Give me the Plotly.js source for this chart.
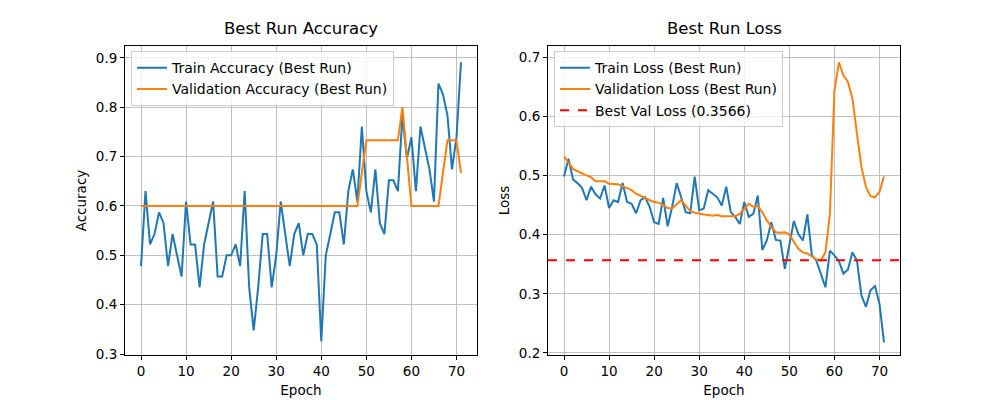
<!DOCTYPE html>
<html>
<head>
<meta charset="utf-8">
<script src="https://cdn.plot.ly/plotly-3.0.1.min.js"></script>
<style>body{margin:0}#chart{width:1000px;height:400px}</style>
</head>
<body>
<div id="chart"></div>
<script>
// values
const trainAcc = [0.478,0.630,0.522,0.543,0.587,0.565,0.478,0.543,0.500,0.457,
  0.609,0.522,0.522,0.435,0.522,0.565,0.609,0.457,0.457,0.500,
  0.500,0.522,0.478,0.630,0.435,0.348,0.435,0.543,0.543,0.435,
  0.500,0.609,0.543,0.478,0.543,0.565,0.500,0.543,0.543,0.522,
  0.326,0.500,0.543,0.587,0.587,0.522,0.630,0.674,0.609,0.761,
  0.630,0.587,0.674,0.565,0.543,0.652,0.652,0.630,0.783,0.696,
  0.739,0.630,0.761,0.717,0.674,0.609,0.848,0.826,0.783,0.674,
  0.739,0.891];
const valAcc = [0.6,0.6,0.6,0.6,0.6,0.6,0.6,0.6,0.6,0.6,
  0.6,0.6,0.6,0.6,0.6,0.6,0.6,0.6,0.6,0.6,
  0.6,0.6,0.6,0.6,0.6,0.6,0.6,0.6,0.6,0.6,
  0.6,0.6,0.6,0.6,0.6,0.6,0.6,0.6,0.6,0.6,
  0.6,0.6,0.6,0.6,0.6,0.6,0.6,0.6,0.6,0.667,
  0.733,0.733,0.733,0.733,0.733,0.733,0.733,0.733,0.800,0.700,
  0.6,0.6,0.6,0.6,0.6,0.6,0.6,0.667,0.733,0.733,
  0.733,0.667];
const trainLoss = [0.498,0.528,0.493,0.487,0.479,0.458,0.481,0.468,0.461,0.483,
  0.445,0.458,0.455,0.487,0.455,0.452,0.436,0.458,0.463,0.447,
  0.421,0.418,0.462,0.414,0.447,0.487,0.463,0.438,0.436,0.498,
  0.441,0.444,0.475,0.469,0.463,0.449,0.481,0.438,0.430,0.418,
  0.455,0.430,0.435,0.466,0.374,0.390,0.421,0.391,0.390,0.342,
  0.383,0.423,0.401,0.390,0.434,0.365,0.356,0.334,0.311,0.373,
  0.365,0.355,0.334,0.341,0.370,0.356,0.297,0.278,0.306,0.313,
  0.283,0.218];
const valLoss = [0.532,0.521,0.511,0.507,0.503,0.500,0.497,0.490,0.490,0.490,
  0.486,0.485,0.485,0.482,0.479,0.475,0.469,0.465,0.462,0.458,
  0.455,0.454,0.450,0.445,0.444,0.451,0.458,0.449,0.440,0.437,
  0.435,0.434,0.433,0.432,0.433,0.431,0.431,0.431,0.431,0.435,
  0.444,0.452,0.447,0.448,0.438,0.424,0.413,0.404,0.403,0.404,
  0.400,0.387,0.376,0.370,0.368,0.363,0.358,0.3566,0.370,0.435,
  0.643,0.691,0.669,0.658,0.630,0.570,0.514,0.480,0.465,0.463,
  0.472,0.498];
const bestValLoss = 0.3566;
const epochs = trainAcc.map((_, i) => i);
const xRange = [-3.55, 74.55];

const blue = '#1f77b4', orange = '#ff7f0e';
const line = c => ({color: c, width: 2});

const data = [
  {x: epochs, y: trainAcc, name: 'Train Accuracy (Best Run)', mode: 'lines', line: line(blue), xaxis: 'x', yaxis: 'y', legend: 'legend'},
  {x: epochs, y: valAcc, name: 'Validation Accuracy (Best Run)', mode: 'lines', line: line(orange), xaxis: 'x', yaxis: 'y', legend: 'legend'},
  {x: epochs, y: trainLoss, name: 'Train Loss (Best Run)', mode: 'lines', line: line(blue), xaxis: 'x2', yaxis: 'y2', legend: 'legend2'},
  {x: epochs, y: valLoss, name: 'Validation Loss (Best Run)', mode: 'lines', line: line(orange), xaxis: 'x2', yaxis: 'y2', legend: 'legend2'},
  {x: xRange, y: [bestValLoss, bestValLoss], name: `Best Val Loss (${bestValLoss})`, mode: 'lines',
   line: {color: 'red', width: 2, dash: 'dash'}, xaxis: 'x2', yaxis: 'y2', legend: 'legend2'}
];

const axBase = {
  showline: true, mirror: true, linecolor: 'black', linewidth: 1,
  showgrid: true, gridcolor: '#b0b0b0', gridwidth: 0.8,
  ticks: 'outside', ticklen: 4, tickcolor: 'black', zeroline: false,
  tickfont: {size: 13.5, color: 'black'}
};
const titleFont = {size: 13.5, color: 'black'};
const legendBase = {
  bgcolor: 'rgba(255,255,255,0.8)', bordercolor: '#cccccc', borderwidth: 1,
  font: {size: 14, color: 'black'}, xanchor: 'left', yanchor: 'top', tracegroupgap: 0
};

const layout = {
  width: 1000, height: 400,
  margin: {l: 0, r: 0, t: 0, b: 0},
  paper_bgcolor: 'white', plot_bgcolor: 'white',
  font: {family: 'DejaVu Sans', color: 'black'},
  showlegend: true,
  xaxis: {...axBase, domain: [0.125, 0.477], range: xRange, dtick: 10, anchor: 'y',
    title: {text: 'Epoch', font: titleFont, standoff: 7}},
  yaxis: {...axBase, domain: [0.1125, 0.885], range: [0.298, 0.924], dtick: 0.1, anchor: 'x',
    title: {text: 'Accuracy', font: titleFont, standoff: 6}},
  xaxis2: {...axBase, domain: [0.548, 0.9], range: xRange, dtick: 10, anchor: 'y2',
    title: {text: 'Epoch', font: titleFont, standoff: 7}},
  yaxis2: {...axBase, domain: [0.1125, 0.885], range: [0.1966, 0.7186], dtick: 0.1, anchor: 'x2',
    title: {text: 'Loss', font: titleFont, standoff: 6}},
  legend: {...legendBase, x: 0.131, y: 0.872},
  legend2: {...legendBase, x: 0.554, y: 0.872},
  annotations: [
    {text: 'Best Run Accuracy', x: 0.301, y: 0.9, xref: 'paper', yref: 'paper', xanchor: 'center', yanchor: 'bottom', showarrow: false, font: {size: 16.5, color: 'black'}},
    {text: 'Best Run Loss', x: 0.724, y: 0.9, xref: 'paper', yref: 'paper', xanchor: 'center', yanchor: 'bottom', showarrow: false, font: {size: 16.5, color: 'black'}}
  ]
};

Plotly.newPlot('chart', data, layout, {staticPlot: true});
</script>
</body>
</html>
